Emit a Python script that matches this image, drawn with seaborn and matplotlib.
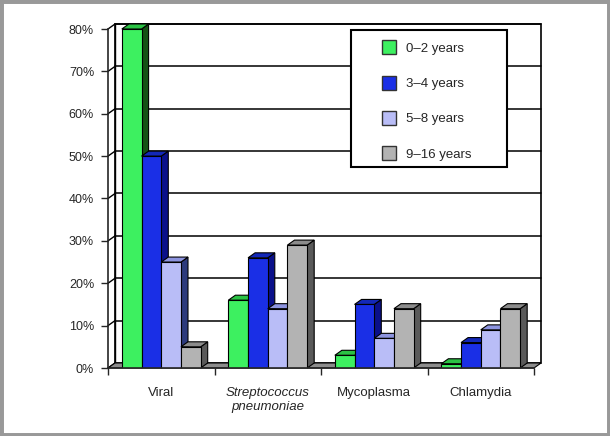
import pandas as pd
import matplotlib.pyplot as plt
import seaborn as sns
from matplotlib.patches import Polygon, Rectangle
from matplotlib.lines import Line2D

# data (percent of cases)
categories = ['Viral', 'Streptococcus\npneumoniae', 'Mycoplasma', 'Chlamydia']
age_groups = ['0\u20132 years', '3\u20134 years', '5\u20138 years', '9\u201316 years']
age_0_2 = [80, 16, 3, 1]
age_3_4 = [50, 26, 15, 6]
age_5_8 = [25, 14, 7, 9]
age_9_16 = [5, 29, 14, 14]

front_colors = ['#3df060', '#1a2fe6', '#b9bdf7', '#b3b3b3']
top_colors = ['#2bc244', '#1328b8', '#8d94df', '#8c8c8c']
side_colors = ['#145214', '#0a108a', '#2c3a7c', '#5a5a5a']

rows = []
for grp, vals in zip(age_groups, [age_0_2, age_3_4, age_5_8, age_9_16]):
    for cat, v in zip(categories, vals):
        rows.append({'category': cat, 'age': grp, 'value': v})
df = pd.DataFrame(rows)

sns.set_style('white')
plt.rcParams['font.family'] = ['Liberation Sans', 'DejaVu Sans']

fig = plt.figure(figsize=(6.10, 4.36), dpi=100)
ax = fig.add_axes([108 / 610, 68 / 436, 426 / 610, 339 / 436])

sns.barplot(data=df, x='category', y='value', hue='age', order=categories,
            hue_order=age_groups, palette=front_colors, width=0.74,
            edgecolor='black', linewidth=0.8, saturation=1, legend=False, ax=ax)

ax.set_xlim(-0.5, 3.5)
ax.set_ylim(0, 80)

# depth of the 3d effect in data units (about 7 px right, 5 px up)
dx = 7 / 106
dy = 5 / (339 / 80)

# back wall, floor and left wall
ax.add_patch(Rectangle((-0.5 + dx, dy), 4, 80, facecolor='white', edgecolor='black',
                       lw=1.2, zorder=0.5, clip_on=False))
for v in range(10, 90, 10):
    ax.plot([-0.5 + dx, 3.5 + dx], [v + dy, v + dy], color='black', lw=1.1,
            zorder=0.6, clip_on=False)
for v in range(0, 90, 10):
    ax.plot([-0.5, -0.5 + dx], [v, v + dy], color='black', lw=1.0, zorder=0.6, clip_on=False)
ax.plot([-0.5 + dx, -0.5 + dx], [dy, 80 + dy], color='black', lw=1.0, zorder=0.6, clip_on=False)
ax.add_patch(Polygon([(-0.5, 0), (3.5, 0), (3.5 + dx, dy), (-0.5 + dx, dy)], closed=True,
                     facecolor='#8c8c8c', edgecolor='black', lw=0.8, zorder=0.7, clip_on=False))

# side and top faces for each bar, drawn left to right
bars = []
for hi, cont in enumerate(ax.containers):
    for bar in cont:
        bars.append((bar.get_x(), hi, bar))
bars.sort(key=lambda t: t[0])
for i, (x0, hi, bar) in enumerate(bars):
    w = bar.get_width()
    h = bar.get_height()
    z = 2 + i * 0.01
    bar.set_zorder(z + 0.005)
    side = Polygon([(x0 + w, 0), (x0 + w + dx, dy), (x0 + w + dx, h + dy), (x0 + w, h)],
                   closed=True, facecolor=side_colors[hi], edgecolor='black', lw=0.8, zorder=z)
    top = Polygon([(x0, h), (x0 + w, h), (x0 + w + dx, h + dy), (x0 + dx, h + dy)],
                  closed=True, facecolor=top_colors[hi], edgecolor='black', lw=0.8, zorder=z)
    ax.add_patch(side)
    ax.add_patch(top)
    for p in (side, top):
        p.set_clip_on(False)

# axes styling
for s in ['top', 'right']:
    ax.spines[s].set_visible(False)
ax.spines['left'].set_linewidth(1.2)
ax.spines['bottom'].set_linewidth(1.2)
ax.spines['left'].set_zorder(5)
ax.spines['bottom'].set_zorder(5)
ax.set_yticks(range(0, 90, 10))
ax.set_yticklabels([f'{v}%' for v in range(0, 90, 10)], fontsize=9)
ax.tick_params(axis='y', length=5, width=1, direction='out', pad=5, left=True)
ax.set_xticks([-0.5, 0.5, 1.5, 2.5, 3.5], minor=True)
ax.tick_params(axis='x', which='minor', length=5, width=1, direction='out', bottom=True)
ax.tick_params(axis='x', which='major', length=0, pad=14, labelsize=9.5)
ax.set_xticks(range(len(categories)))
ax.set_xticklabels(categories)
ax.get_xticklabels()[1].set_fontstyle('italic')
ax.set_xlabel('')
ax.set_ylabel('')

# legend in its own box
fig.patches.append(Rectangle((351 / 610, 1 - 167 / 436), 156 / 610, 137 / 436,
                             transform=fig.transFigure, facecolor='white',
                             edgecolor='black', lw=1.5, zorder=10))
handles = [Line2D([], [], ls='', marker='s', markersize=9.5, markerfacecolor=c,
                  markeredgecolor='#333333') for c in front_colors]
leg = fig.legend(handles, age_groups, loc='upper left',
                 bbox_to_anchor=(373 / 610, 1 - 36 / 436), frameon=False,
                 fontsize=9.5, labelspacing=1.75, handlelength=1.5, handletextpad=0.5,
                 borderpad=0)
leg.set_zorder(11)

# grey outer frame
fig.patches.append(Rectangle((0, 0), 1, 1, transform=fig.transFigure, fill=False,
                             edgecolor='#999999', lw=5))

plt.savefig('out.png', dpi=100)
